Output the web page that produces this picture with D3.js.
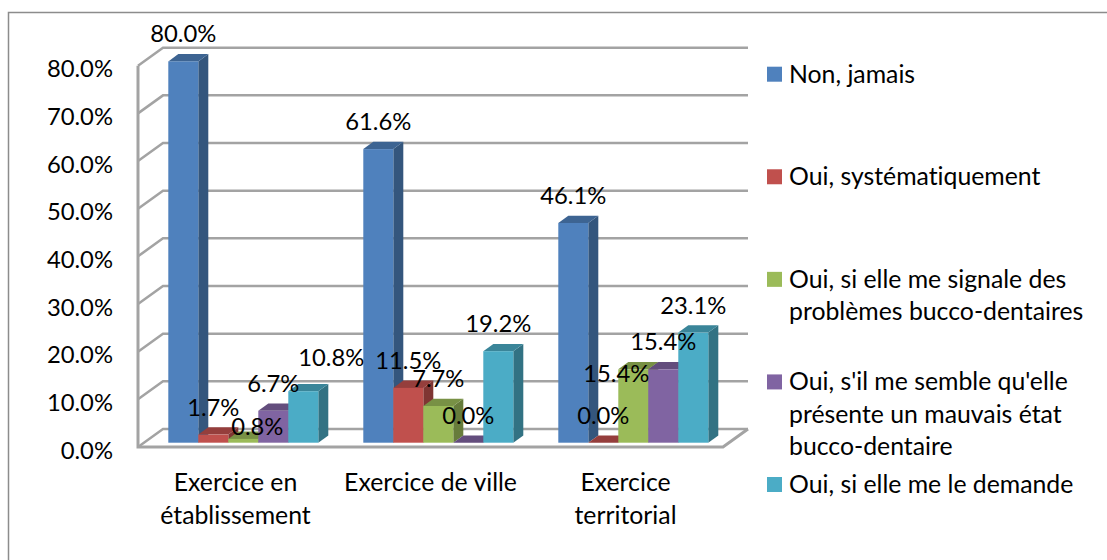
<!DOCTYPE html>
<html>
<head>
<meta charset="utf-8">
<script src="https://cdn.jsdelivr.net/npm/d3@7"></script>
<style>
  html, body { margin: 0; padding: 0; background: #fff; }
  svg { display: block; }
  text { font-family: Lato, "Open Sans", sans-serif; fill: #000; font-variant-ligatures: none; }
</style>
</head>
<body>
<div id="my_dataviz"></div>
<script>
var width = 1107
var height = 560

var categories = ["Exercice en établissement", "Exercice de ville", "Exercice territorial"]
var categoryLines = [["Exercice en", "établissement"], ["Exercice de ville"], ["Exercice", "territorial"]]
var seriesNames = [
  "Non, jamais",
  "Oui, systématiquement",
  "Oui, si elle me signale des problèmes bucco-dentaires",
  "Oui, s'il me semble qu'elle présente un mauvais état bucco-dentaire",
  "Oui, si elle me le demande"
]
var legendLines = [
  ["Non, jamais"],
  ["Oui, systématiquement"],
  ["Oui, si elle me signale des", "problèmes bucco-dentaires"],
  ["Oui, s'il me semble qu'elle", "présente un mauvais état", "bucco-dentaire"],
  ["Oui, si elle me le demande"]
]
var seriesColors = ["#4f81bd", "#c0504d", "#9bbb59", "#8064a2", "#4bacc6"]

var nonJamais = [80.0, 61.6, 46.1]
var systematiquement = [1.7, 11.5, 0.0]
var signale = [0.8, 7.7, 15.4]
var mauvaisEtat = [6.7, 0.0, 15.4]
var demande = [10.8, 19.2, 23.1]
var seriesValues = [nonJamais, systematiquement, signale, mauvaisEtat, demande]

var yTicks = [0, 10, 20, 30, 40, 50, 60, 70, 80]

// labels that were dragged by hand in the original, "category-series": [dx, dy]
var labelNudge = { "0-2": [14, 15], "0-4": [28, -6], "2-2": [-17, 32] }

var numberSize = 23.8
var textSize = 24.8
var wallDx = 25, wallDy = -18   // depth of the 3D box
var barDx = 7.8, barDy = -4.3   // bars stand inside the box
var sideDx = 10, sideDy = -7.3  // depth of a bar
var gridColor = "#a3a3a3"

var svg = d3.select("#my_dataviz")
  .append("svg")
    .attr("width", width)
    .attr("height", height)

// frame, runs off the picture on the right and bottom
svg.append("path")
  .attr("d", "M8.5," + height + "V12.5H" + width)
  .attr("fill", "none")
  .attr("stroke", "#8c8c8c")
  .attr("stroke-width", 1.5)

var x0 = d3.scaleBand()
  .domain(categories)
  .range([138, 723])
  .paddingInner(45 / 195)
  .paddingOuter(45 / 390)

var x1 = d3.scaleBand()
  .domain(seriesNames)
  .range([0, x0.bandwidth()])

var y = d3.scaleLinear()
  .domain([0, 80])
  .range([447, 65.7])

var color = d3.scaleOrdinal()
  .domain(seriesNames)
  .range(seriesColors)

// walls and floor
var grid = svg.append("g")
  .attr("fill", "none")
  .attr("stroke", gridColor)
  .attr("stroke-width", 2.5)

grid.selectAll(".back")
  .data(yTicks)
  .enter()
  .append("path")
    .attr("class", "back")
    .attr("d", function(d) {
      return "M" + x0.range()[0] + "," + y(d) + "l" + wallDx + "," + wallDy + "H" + (x0.range()[1] + wallDx)
    })

grid.append("path")
  .attr("d", "M" + x0.range()[0] + "," + y(80) + "V" + y(0) + "H" + x0.range()[1] + "l" + wallDx + "," + wallDy)
  .attr("stroke-width", 3)

// y axis
var yAxis = svg.append("g")
  .attr("transform", "translate(138,3.5)")
  .call(d3.axisLeft(y)
    .tickValues(yTicks)
    .tickSize(0)
    .tickPadding(25)
    .tickFormat(function(d) { return d3.format(".1f")(d) + "%" }))

yAxis.select(".domain").remove()
yAxis.selectAll("text")
  .style("font-size", numberSize + "px")
  .style("font-family", "Lato, 'Open Sans', sans-serif")

// bars
var groups = svg.append("g")
  .selectAll("g")
  .data(categories)
  .enter()
  .append("g")
    .attr("transform", function(d) { return "translate(" + (x0(d) + barDx) + "," + barDy + ")" })

var bars = groups.selectAll("g")
  .data(function(d, i) {
    return seriesNames.map(function(s, j) {
      return { category: i, series: j, name: s, value: seriesValues[j][i] }
    })
  })
  .enter()
  .append("g")

// side face
bars.append("path")
  .attr("fill", function(d) { return d3.color(color(d.name)).darker(1.15) })
  .attr("d", function(d) {
    var r = x1(d.name) + x1.bandwidth()
    return "M" + r + "," + y(d.value) + "l" + sideDx + "," + sideDy + "V" + (y(0) + sideDy) + "l" + (-sideDx) + "," + (-sideDy) + "Z"
  })

// top face
bars.append("path")
  .attr("fill", function(d) { return d3.color(color(d.name)).darker(0.72) })
  .attr("d", function(d) {
    return "M" + x1(d.name) + "," + y(d.value) + "l" + sideDx + "," + sideDy + "h" + x1.bandwidth() + "l" + (-sideDx) + "," + (-sideDy) + "Z"
  })

// front face
bars.append("rect")
  .attr("x", function(d) { return x1(d.name) })
  .attr("y", function(d) { return y(d.value) })
  .attr("width", x1.bandwidth())
  .attr("height", function(d) { return y(0) - y(d.value) })
  .attr("fill", function(d) { return color(d.name) })

// value labels go on top of everything
var labels = svg.append("g")
  .selectAll("text")
  .data(d3.merge(categories.map(function(c, i) {
    return seriesNames.map(function(s, j) {
      return { c: c, i: i, s: s, j: j, value: seriesValues[j][i] }
    })
  })))
  .enter()
  .append("text")
    .attr("text-anchor", "middle")
    .style("font-size", numberSize + "px")
    .attr("x", function(d) {
      var n = labelNudge[d.i + "-" + d.j] || [0, 0]
      return x0(d.c) + barDx + x1(d.s) + x1.bandwidth() / 2 + n[0]
    })
    .attr("y", function(d) {
      var n = labelNudge[d.i + "-" + d.j] || [0, 0]
      return y(d.value) + barDy - 19 + n[1]
    })
    .text(function(d) { return d.value.toFixed(1) + "%" })

// category labels
var catLabels = svg.append("g")
  .selectAll("text")
  .data(categories)
  .enter()
  .append("text")
    .attr("text-anchor", "middle")
    .attr("transform", function(d) { return "translate(" + (x0(d) + x0.bandwidth() / 2) + ",491)" })
    .style("font-size", textSize + "px")

catLabels.selectAll("tspan")
  .data(function(d, i) { return categoryLines[i] })
  .enter()
  .append("tspan")
    .attr("x", 0)
    .attr("y", function(d, i) { return i * 33 })
    .text(function(d) { return d })

// legend
var legendY = d3.scalePoint()
  .domain(seriesNames)
  .range([66.7, 477])

var legend = svg.append("g")
  .selectAll("g")
  .data(seriesNames)
  .enter()
  .append("g")
    .attr("transform", function(d) { return "translate(767," + legendY(d) + ")" })

legend.append("rect")
  .attr("width", 15)
  .attr("height", 15)
  .attr("fill", function(d) { return color(d) })

legend.append("text")
  .style("font-size", textSize + "px")
  .selectAll("tspan")
  .data(function(d, i) { return legendLines[i] })
  .enter()
  .append("tspan")
    .attr("x", 22)
    .attr("y", function(d, i) { return 16 + i * 32.5 })
    .text(function(d) { return d })
</script>
</body>
</html>
